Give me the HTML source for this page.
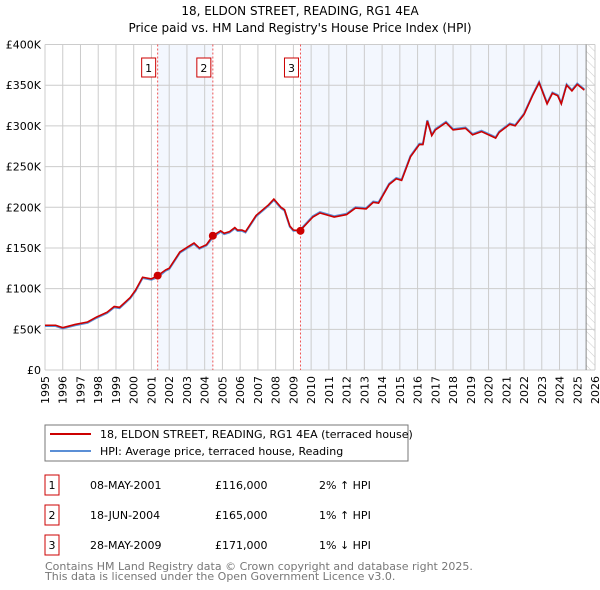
<!DOCTYPE html>
<html><head><meta charset="utf-8"><style>
body{margin:0;background:#fff;}
svg{display:block;font-family:"DejaVu Sans","Liberation Sans",sans-serif;}
</style></head><body>
<svg id="c" width="600" height="590" viewBox="0 0 600 590">
<defs><pattern id="hatch" width="6" height="6" patternUnits="userSpaceOnUse" patternTransform="rotate(-45)"><line x1="0" y1="0" x2="0" y2="6" stroke="#ccc" stroke-width="1"/></pattern></defs>
<text x="300" y="15" text-anchor="middle" font-size="12">18, ELDON STREET, READING, RG1 4EA</text>
<text x="300" y="32" text-anchor="middle" font-size="12">Price paid vs. HM Land Registry's House Price Index (HPI)</text>
<g id="plot"></g>
<g>
<rect x="45" y="425" width="363" height="36" fill="#fff" stroke="#777"/>
<line x1="50" y1="434" x2="91" y2="434" stroke="#cc0000" stroke-width="2"/>
<text x="100" y="438" font-size="11">18, ELDON STREET, READING, RG1 4EA (terraced house)</text>
<line x1="50" y1="451" x2="91" y2="451" stroke="#5b8fd6" stroke-width="2"/>
<text x="100" y="455" font-size="11">HPI: Average price, terraced house, Reading</text>
</g>
<g id="table" font-size="11"></g>
<text x="45" y="570" font-size="11" fill="#777">Contains HM Land Registry data © Crown copyright and database right 2025.</text>
<text x="45" y="580" font-size="11" fill="#777">This data is licensed under the Open Government Licence v3.0.</text>
</svg>
<script>
const years=[1995,1995.6,1996,1996.7,1997.4,1997.9,1998.5,1998.9,1999.2,1999.8,2000.1,2000.5,2001,2001.35,2001.8,2002,2002.6,2003.1,2003.4,2003.7,2004.1,2004.46,2004.9,2005.1,2005.4,2005.7,2005.85,2006.1,2006.3,2006.9,2007.6,2007.9,2008.3,2008.5,2008.8,2009,2009.37,2010.1,2010.5,2011.3,2012,2012.5,2013.1,2013.5,2013.8,2014.4,2014.8,2015.1,2015.6,2016.1,2016.3,2016.55,2016.8,2017,2017.6,2018,2018.7,2019.1,2019.6,2020.1,2020.4,2020.6,2021.2,2021.5,2022,2022.5,2022.85,2023.3,2023.6,2023.9,2024.1,2024.4,2024.7,2025,2025.4];
const price=[55,55,52,56,59,65,71,78,77,89,98,114,112,116,123,125,145,152,156,150,154,165,171,168,170,175,172,172,170,190,203,210,200,197,177,172,171,188,193,188,191,199,198,206,205,228,235,233,262,277,277,306,288,295,304,295,297,289,293,288,285,292,302,300,314,338,353,327,340,337,327,350,343,351,344];
const hpi=[54,54,51,55,58,64,70,77,76,88,97,113,111,114,122,124,144,151,155,149,153,163,170,167,169,174,171,171,169,189,202,209,199,196,176,171,172,189,194,189,192,200,199,207,206,229,236,234,263,278,278,307,289,296,305,296,298,290,294,289,286,293,303,301,315,339,354,328,341,338,328,351,344,352,345];
const saleYears=[2001.35,2004.46,2009.4];
const salePrices=[116,165,171];
const saleDates=["08-MAY-2001","18-JUN-2004","28-MAY-2009"];
const saleAmounts=["£116,000","£165,000","£171,000"];
const saleHpi=["2% ↑ HPI","1% ↑ HPI","1% ↓ HPI"];
const yTicks=[0,50,100,150,200,250,300,350,400];
const yLabels=["£0","£50K","£100K","£150K","£200K","£250K","£300K","£350K","£400K"];
const x0=45,x1=595,yb=370,yt=44.5,ymin=1995,ymax=2026,hatchYear=2025.5;
const X=v=>x0+(v-ymin)/(ymax-ymin)*(x1-x0);
const Y=v=>yb-v/400*(yb-yt);
const NS="http://www.w3.org/2000/svg";
const g=document.getElementById('plot');
function mk(tag,attrs,parent){const e=document.createElementNS(NS,tag);for(const k in attrs)e.setAttribute(k,attrs[k]);(parent||g).appendChild(e);return e;}
let r=mk('rect',{x:X(saleYears[0]),y:yt,width:X(saleYears[1])-X(saleYears[0]),height:yb-yt,fill:'#f3f7fe'});


r=mk('rect',{x:X(saleYears[2]),y:yt,width:X(hatchYear)-X(saleYears[2]),height:yb-yt,fill:'#f3f7fe'});


r=mk('rect',{x:X(hatchYear),y:yt,width:x1-X(hatchYear),height:yb-yt,fill:'url(#hatch)'});


for(let yr=ymin;yr<=ymax;yr++){
 const l=mk('line',{x1:X(yr),x2:X(yr),y1:yt,y2:yb,stroke:'#ccc','stroke-width':1});
 
 
 const t=mk('text',{transform:`translate(${X(yr)+4},${yb+6}) rotate(-90)`,'text-anchor':'end','font-size':11});
 t.textContent=yr;
 
 
}
yTicks.forEach((v,i)=>{
 const l=mk('line',{x1:x0,x2:x1,y1:Y(v),y2:Y(v),stroke:'#ccc','stroke-width':1});
 
 
 const t=mk('text',{x:x0-4,y:Y(v)+4,'text-anchor':'end','font-size':11});
 t.textContent=yLabels[i];
 
 
});
const hl=mk('line',{x1:X(hatchYear),x2:X(hatchYear),y1:yt,y2:yb,stroke:'#888','stroke-width':1});


saleYears.forEach((s,i)=>{
 const l=mk('line',{x1:X(s),x2:X(s),y1:yt,y2:yb,stroke:'#e55','stroke-width':1,'stroke-dasharray':'2,2'});
 
 
 const b=mk('rect',{x:X(s)-16,y:58,width:14,height:19,fill:'#fff',stroke:'#cc0000'});
 
 
 const t=mk('text',{x:X(s)-9,y:72,'text-anchor':'middle','font-size':11});
 t.textContent=String(i+1);
 
 
});
const hp=mk('polyline',{points:years.map((y,i)=>X(y)+','+Y(hpi[i])).join(' '),fill:'none',stroke:'#5b8fd6','stroke-width':2});


const pp=mk('polyline',{points:years.map((y,i)=>X(y)+','+Y(price[i])).join(' '),fill:'none',stroke:'#cc0000','stroke-width':1.6});


saleYears.forEach((s,i)=>{
 const c=mk('circle',{cx:X(s),cy:Y(salePrices[i]),r:4,fill:'#cc0000'});
 
 
});
const tb=document.getElementById('table');
saleDates.forEach((d,i)=>{
 const cy=485+i*30;
 const b=mk('rect',{x:45,y:cy-10,width:14,height:20,fill:'#fff',stroke:'#cc0000'},tb);
 
 
 const vals=[[String(i+1),52,'middle'],[d,90,'start'],[saleAmounts[i],215,'start'],[saleHpi[i],319,'start']];
 vals.forEach(v=>{
  const t=mk('text',{x:v[1],y:cy+4,'text-anchor':v[2]},tb);
  t.textContent=v[0];
  
  
 });
});
</script>
</body></html>
